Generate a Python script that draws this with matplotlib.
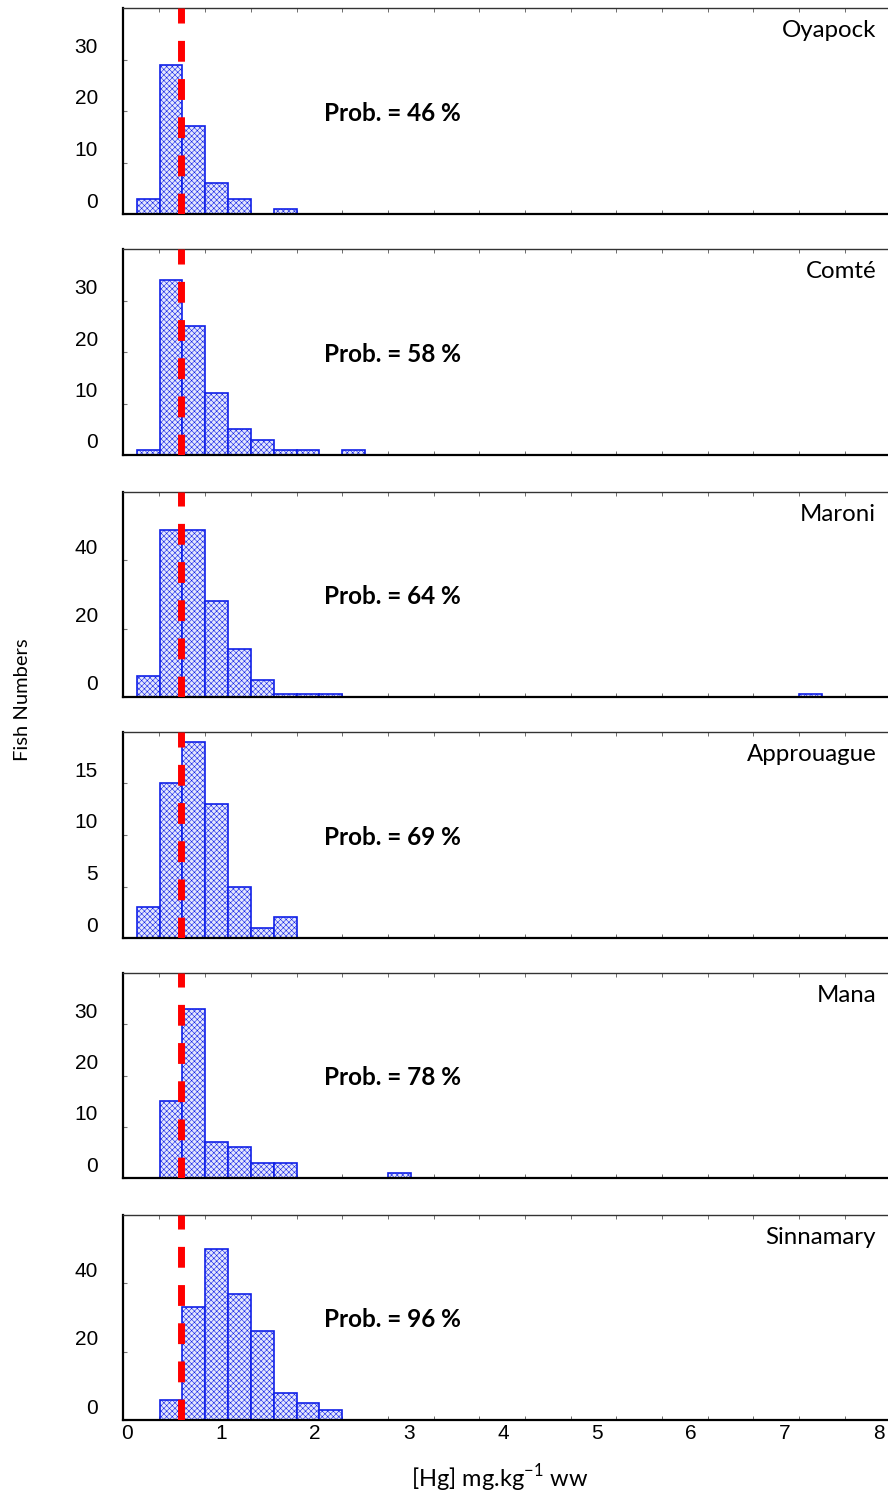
import matplotlib.pyplot as plt
from matplotlib.transforms import ScaledTranslation

plt.rcParams["hatch.linewidth"] = 0.4
plt.rcParams["hatch.color"] = "#7480f4"

# histogram bins (mg/kg)
BIN_START = 0.103
BIN_WIDTH = 0.243
HG_LIMIT = 0.575

RIVERS = ["Oyapock", "Comté", "Maroni", "Approuague", "Mana", "Sinnamary"]
PROBS = [46, 58, 64, 69, 78, 96]
COUNTS = [
    [3, 29, 17, 6, 3, 0, 1],
    [1, 34, 25, 12, 5, 3, 1, 1, 0, 1],
    [6, 49, 49, 28, 14, 5, 1, 1, 1] + [0] * 20 + [1],
    [3, 15, 19, 13, 5, 1, 2],
    [0, 15, 33, 7, 6, 3, 3, 0, 0, 0, 0, 1],
    [0, 6, 33, 50, 37, 26, 8, 5, 3],
]
YMAX = [40, 40, 60, 20, 40, 60]
YTICKS = [[0, 10, 20, 30], [0, 10, 20, 30], [0, 20, 40], [0, 5, 10, 15], [0, 10, 20, 30], [0, 20, 40]]
XTICKS = list(range(9))

# panel extents in pixels (top, bottom)
PANEL_PX = [(8, 214), (249, 455), (492, 697), (732, 938), (973, 1178), (1215, 1420)]
W, H = 888, 1495

fig = plt.figure(figsize=(W / 100, H / 100), dpi=100)

for i, (name, prob, counts) in enumerate(zip(RIVERS, PROBS, COUNTS)):
    top, bot = PANEL_PX[i]
    ax = fig.add_axes([123 / W, 1 - bot / H, 1 - 123 / W + 0.01, (bot - top) / H])
    lefts = [BIN_START + k * BIN_WIDTH for k in range(len(counts))]
    ax.bar(lefts, counts, width=BIN_WIDTH, align="edge", facecolor="#e4e7fc",
           edgecolor="#1020e8", linewidth=1.2, hatch="xxxxxx", zorder=2)
    ax.axvline(HG_LIMIT, color="#ff0000", lw=5, dashes=(3.0, 2.5), zorder=3)

    ax.set_xlim(-0.043, 8.096 + 0.094)
    ax.set_ylim(0, YMAX[i])
    ax.set_yticks(YTICKS[i])
    ax.tick_params(axis="y", direction="in", length=3, color="#777777",
                   labelsize=15, pad=18)
    offset = ScaledTranslation(0, 0.14, fig.dpi_scale_trans)
    for lab in ax.get_yticklabels():
        lab.set_fontfamily("Liberation Sans")
        lab.set_transform(lab.get_transform() + offset)

    ax.set_xticks(XTICKS)
    ax.set_xticks([0.345 + 0.486 * k for k in range(17)], minor=True)
    ax.tick_params(axis="x", which="major", length=0, labelsize=15, pad=3)
    ax.tick_params(axis="x", which="minor", direction="in", length=3,
                   color="#555555", top=True, bottom=True)
    if i < len(RIVERS) - 1:
        ax.set_xticklabels([])
    else:
        for lab in ax.get_xticklabels():
            lab.set_fontfamily("Liberation Sans")

    ax.spines["right"].set_visible(False)
    ax.spines["left"].set_linewidth(1.6)
    ax.spines["bottom"].set_linewidth(1.6)
    ax.spines["top"].set_linewidth(1.0)
    ax.spines["top"].set_color("#333333")

    ax.text(7.97, YMAX[i] * 0.89, name, ha="right", va="center",
            fontsize=17.3, family="Lato")
    ax.text(2.1, YMAX[i] * 0.49, f"Prob. = {prob} %", ha="left", va="center",
            fontsize=17.5, family="Lato", fontweight="bold")

fig.text(22 / W, 1 - 700 / H, "Fish Numbers", rotation=90, ha="center",
         va="center", fontsize=14.5, family="Lato")
fig.text(500 / W, 1 - 1478 / H, r"[Hg] mg.kg$^{\mathregular{-1}}$ ww", ha="center",
         va="center", fontsize=17, family="Lato")

plt.savefig("out.png", dpi=100)
